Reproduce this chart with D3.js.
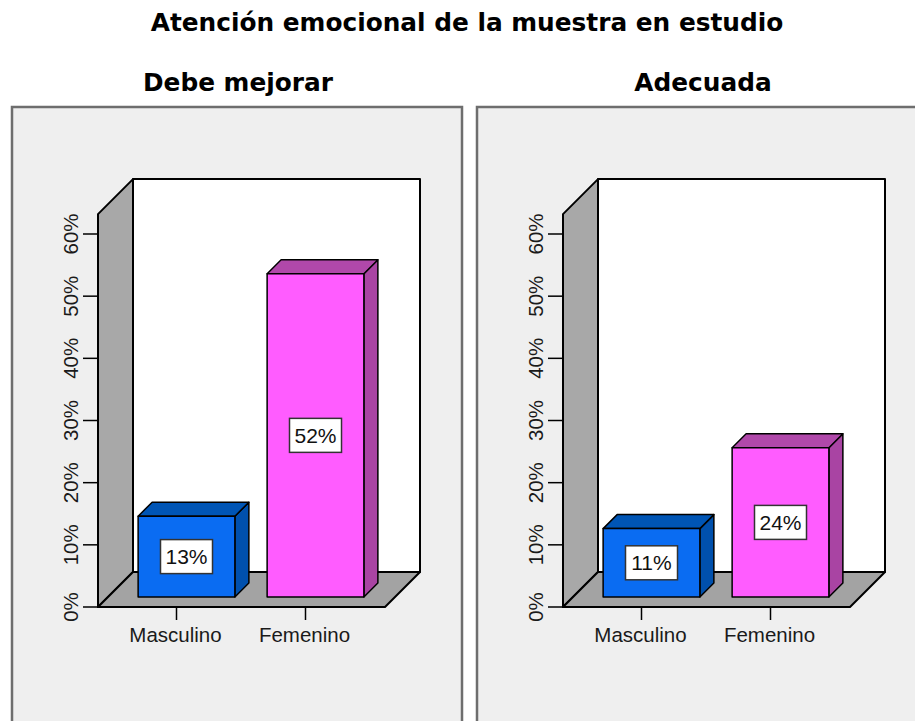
<!DOCTYPE html>
<html>
<head>
<meta charset="utf-8">
<script src="https://cdn.jsdelivr.net/npm/d3@7"></script>
<style>
  html, body { margin: 0; padding: 0; background: #ffffff; }
  svg { display: block; }
</style>
</head>
<body>
<script>
// Chart data
const chartTitle = "Atención emocional de la muestra en estudio";
const panelTitles = ["Debe mejorar", "Adecuada"];
const categories = ["Masculino", "Femenino"];
const debeMejorar = [13, 52];
const adecuada = [11, 24];
const panelValues = [debeMejorar, adecuada];
const yTicks = [0, 10, 20, 30, 40, 50, 60];
const tickFormat = d => d + "%";

const barColors = {
  Masculino: { front: "#0a6cf2", side: "#0050ad", top: "#0055b5" },
  Femenino:  { front: "#ff5cff", side: "#a944a3", top: "#b048aa" }
};

const W = 915, H = 721;
const svg = d3.select("body").append("svg").attr("width", W).attr("height", H);

// Main title
svg.append("text")
  .attr("x", 467).attr("y", 31)
  .attr("text-anchor", "middle")
  .style("font-family", "'DejaVu Sans', sans-serif")
  .style("font-weight", "bold")
  .style("font-size", "24.8px")
  .attr("fill", "#000")
  .text(chartTitle);

// Geometry of one panel (front plane coordinates, relative to panel offset)
const panelW = 450;
const depth = 35;             // depth of the floor / side wall
const barD1 = 10, barD2 = 24; // bar front and back depth
const y = d3.scaleLinear().domain([0, 60]).range([607, 234]);
const yWallTop = y(63.2);
const xLeft = 98, xRight = 385;
const x = d3.scaleBand().domain(categories).range([112, 370])
  .paddingInner(0.25).paddingOuter(0.125);

const pt = (px, py, d) => [px + d, py - d];
const poly = pts => "M" + pts.map(p => p.join(",")).join("L") + "Z";

panelTitles.forEach((title, i) => {
  const ox = 12 + i * 465;
  const g = svg.append("g").attr("transform", `translate(${ox - 12},0)`);

  // Panel frame
  g.append("rect")
    .attr("x", 12).attr("y", 107)
    .attr("width", panelW).attr("height", 640)
    .attr("fill", "#efefef")
    .attr("stroke", "#6e6e6e").attr("stroke-width", 2.5);

  g.append("text")
    .attr("x", 12 + panelW / 2 + 1).attr("y", 91)
    .attr("text-anchor", "middle")
    .style("font-family", "'DejaVu Sans', sans-serif")
    .style("font-weight", "bold")
    .style("font-size", "24.8px")
    .attr("fill", "#000")
    .text(title);

  const y0 = y(0);
  // Back wall
  g.append("path")
    .attr("d", poly([pt(xLeft, yWallTop, depth), pt(xRight, yWallTop, depth), pt(xRight, y0, depth), pt(xLeft, y0, depth)]))
    .attr("fill", "#ffffff").attr("stroke", "#000").attr("stroke-width", 2).attr("stroke-linejoin", "round");
  // Side wall
  g.append("path")
    .attr("d", poly([[xLeft, yWallTop], pt(xLeft, yWallTop, depth), pt(xLeft, y0, depth), [xLeft, y0]]))
    .attr("fill", "#a8a8a8").attr("stroke", "#000").attr("stroke-width", 2).attr("stroke-linejoin", "round");
  // Floor
  g.append("path")
    .attr("d", poly([[xLeft, y0], [xRight, y0], pt(xRight, y0, depth), pt(xLeft, y0, depth)]))
    .attr("fill", "#a3a3a3").attr("stroke", "#000").attr("stroke-width", 2).attr("stroke-linejoin", "round");

  // Y axis ticks and labels
  const yt = g.append("g");
  yt.selectAll("line").data(yTicks).join("line")
    .attr("x1", xLeft - 15).attr("x2", xLeft)
    .attr("y1", d => y(d)).attr("y2", d => y(d))
    .attr("stroke", "#000").attr("stroke-width", 1.5);
  yt.selectAll("text").data(yTicks).join("text")
    .attr("transform", d => `translate(78,${y(d)}) rotate(-90)`)
    .attr("text-anchor", "middle")
    .style("font-family", "'Liberation Sans', Arial, sans-serif")
    .style("font-size", "20.5px")
    .attr("fill", "#1a1a1a")
    .text(tickFormat);

  // X axis ticks and labels
  const xt = g.append("g");
  xt.selectAll("line").data(categories).join("line")
    .attr("x1", d => x(d) + x.bandwidth() / 2).attr("x2", d => x(d) + x.bandwidth() / 2)
    .attr("y1", y0).attr("y2", y0 + 13)
    .attr("stroke", "#000").attr("stroke-width", 1.5);
  xt.selectAll("text").data(categories).join("text")
    .attr("x", d => x(d) + x.bandwidth() / 2 - 1).attr("y", y0 + 35)
    .attr("text-anchor", "middle")
    .style("font-family", "'Liberation Sans', Arial, sans-serif")
    .style("font-size", "20.5px")
    .attr("fill", "#1a1a1a")
    .text(d => d);

  // Bars
  const vals = panelValues[i];
  categories.forEach((c, j) => {
    const v = vals[j];
    const xa = x(c), xb = x(c) + x.bandwidth();
    const yv = y(v);
    const col = barColors[c];
    const bg = g.append("g");
    bg.append("path")
      .attr("d", poly([pt(xb, yv, barD1), pt(xb, yv, barD2), pt(xb, y0, barD2), pt(xb, y0, barD1)]))
      .attr("fill", col.side).attr("stroke", "#000").attr("stroke-width", 1.5).attr("stroke-linejoin", "round");
    bg.append("path")
      .attr("d", poly([pt(xa, yv, barD1), pt(xa, yv, barD2), pt(xb, yv, barD2), pt(xb, yv, barD1)]))
      .attr("fill", col.top).attr("stroke", "#000").attr("stroke-width", 1.5).attr("stroke-linejoin", "round");
    bg.append("path")
      .attr("d", poly([pt(xa, yv, barD1), pt(xb, yv, barD1), pt(xb, y0, barD1), pt(xa, y0, barD1)]))
      .attr("fill", col.front).attr("stroke", "#000").attr("stroke-width", 1.5).attr("stroke-linejoin", "round");

    // Value label
    const cx = (xa + xb) / 2 + barD1;
    const cy = (yv + y0) / 2 - barD1;
    bg.append("rect")
      .attr("x", cx - 26).attr("y", cy - 17)
      .attr("width", 52).attr("height", 34)
      .attr("fill", "#ffffff").attr("stroke", "#333").attr("stroke-width", 1.5);
    bg.append("text")
      .attr("x", cx).attr("y", cy + 7.5)
      .attr("text-anchor", "middle")
      .style("font-family", "'Liberation Sans', Arial, sans-serif")
      .style("font-size", "21px")
      .attr("fill", "#111")
      .text(v + "%");
  });
});
</script>
</body>
</html>
